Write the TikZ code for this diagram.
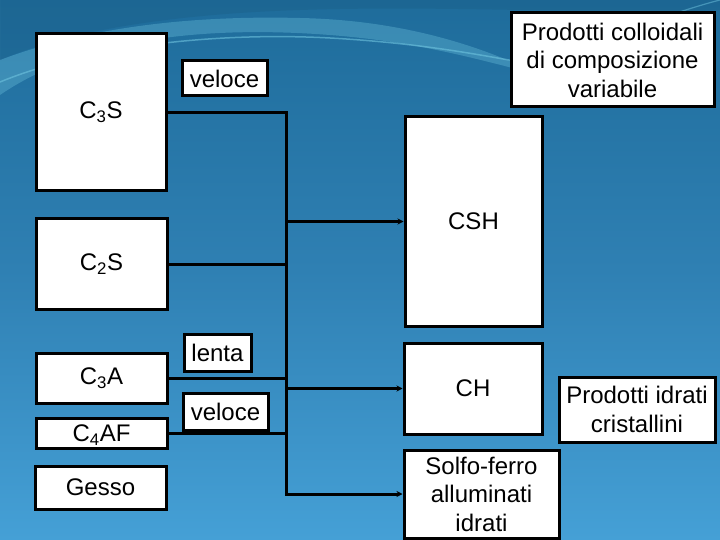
\documentclass[tikz,border=0pt]{standalone}
\usepackage{fontspec}
\setmainfont{Liberation Sans}
\usetikzlibrary{arrows.meta}
\definecolor{bgtop}{HTML}{1E6C9B}
\definecolor{bgmid}{HTML}{2F80B3}
\definecolor{bgbot}{HTML}{45A0D6}
\definecolor{swoosh}{HTML}{6EC3DE}
\tikzset{
  box/.style={draw=black, fill=white, line width=3pt, inner sep=0pt, align=center,
    font=\fontsize{24}{28.5}\selectfont},
  conn/.style={draw=black, line width=3pt},
  arr/.style={conn, -{Stealth[length=6pt,width=6pt]}}
}
\begin{document}
\begin{tikzpicture}[x=1pt,y=-1pt]
\useasboundingbox (0,0) rectangle (720,540);
% background
\shade[top color=bgtop, bottom color=bgbot, middle color=bgmid] (0,0) rectangle (720,540);
\fill[swoosh, opacity=0.35] (0,0) -- (0,95) .. controls (80,40) and (200,25) .. (330,35) .. controls (420,42) and (480,60) .. (540,75) .. controls (480,45) and (400,20) .. (300,18) .. controls (180,15) and (80,30) .. (0,60) -- cycle;
\fill[bgtop!80!black, opacity=0.25] (0,0) -- (720,0) -- (720,10) .. controls (600,15) and (450,5) .. (300,10) .. controls (150,15) and (60,35) .. (0,60) -- cycle;
\draw[swoosh, opacity=0.6, line width=1.5pt] (0,82) .. controls (90,45) and (220,32) .. (330,38) .. controls (420,43) and (480,55) .. (520,62);
\draw[swoosh, opacity=0.5, line width=1.2pt] (640,25) .. controls (670,15) and (700,5) .. (720,0);
% left column
\node[box, minimum width=130pt, minimum height=157pt] (c3s) at (101,112.5) {C\textsubscript{3}S};
\node[box, minimum width=131pt, minimum height=90pt] (c2s) at (101.5,264) {C\textsubscript{2}S};
\node[box, minimum width=131pt, minimum height=50pt] (c3a) at (101.5,378) {C\textsubscript{3}A};
\node[box, minimum width=131pt, minimum height=30pt, text depth=0pt] (c4af) at (101.5,433) {C\textsubscript{4}AF};
\node[box, minimum width=131pt, minimum height=43pt] (gesso) at (100.5,487.5) {Gesso};
% labels
\node[box, minimum width=85pt, minimum height=35pt] (v1) at (224.5,78.5) {veloce};
\node[box, minimum width=67pt, minimum height=37pt] (lenta) at (217.5,352.5) {lenta};
\node[box, minimum width=85pt, minimum height=37pt] (v2) at (225.5,411.5) {veloce};
% right column
\node[box, minimum width=137pt, minimum height=209pt] (csh) at (473.5,221.5) {CSH};
\node[box, minimum width=138pt, minimum height=91pt] (ch) at (473,388.5) {CH};
\node[box, minimum width=155pt, minimum height=88pt] (sf) at (481.5,494) {Solfo-ferro\\alluminati\\idrati};
\node[box, minimum width=203pt, minimum height=94pt] (pc) at (612.5,60) {Prodotti colloidali\\di composizione\\variabile};
\node[box, minimum width=156pt, minimum height=65pt] (pic) at (637,409.5) {Prodotti idrati\\cristallini};
% connectors
\coordinate (jx) at (286,0);
\draw[arr] (c3s.east) -| (jx |- sf.west) -- (sf.west);
\draw[conn] (c2s.east) -- (jx |- c2s.east);
\draw[conn] (c3a.east) -- (jx |- c3a.east);
\draw[conn] (c4af.east) -- (jx |- c4af.east);
\draw[arr] (jx |- csh.west) -- (csh.west);
\draw[arr] (jx |- ch.west) -- (ch.west);
\end{tikzpicture}
\end{document}
